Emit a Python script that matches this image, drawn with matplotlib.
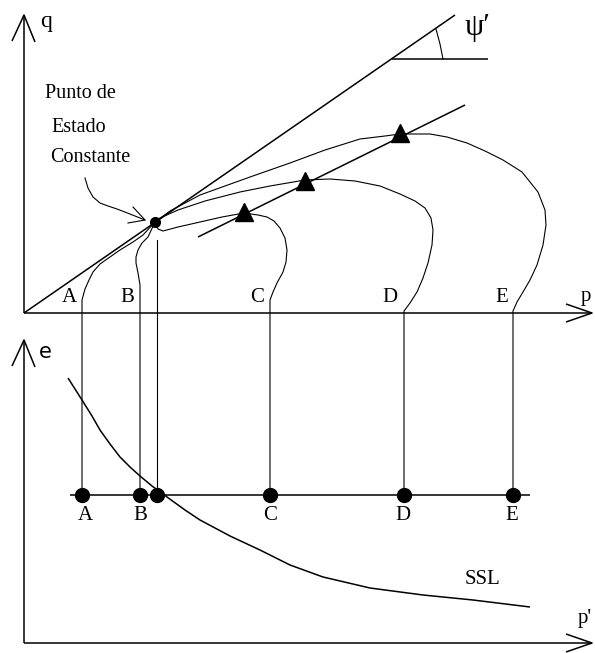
import matplotlib
matplotlib.use("Agg")
import matplotlib.pyplot as plt

plt.rcParams['font.family'] = ['Liberation Serif', 'DejaVu Serif']

# drawing units: x grows right (p), y grows down, origin of q-p plot at (24, 313)
origin_qp = (24, 313)
origin_ep = (24, 643)

# stress paths in the q-p plane, from the start on the p axis to the end point
path_A_x = [82, 82, 85, 89, 93, 100, 110, 120, 133, 143, 155]
path_A_y = [495, 300, 289, 280, 272, 264, 257, 250, 242, 235, 222]
path_B_x = [140, 140, 140, 138, 136, 136, 138, 142, 148, 155]
path_B_y = [495, 305, 285, 273, 263, 257, 250, 243, 237, 222]
path_C_x = [270, 270, 273, 277, 283, 286, 287, 285, 280, 274, 267, 258, 244, 222, 200, 178, 163, 158, 155]
path_C_y = [495, 300, 292, 283, 272, 262, 250, 238, 228, 221, 217, 215, 213, 217, 222, 227, 231, 229, 222]
path_D_x = [404, 404, 410, 417, 423, 428, 432, 433, 431, 425, 415, 400, 380, 355, 330, 305, 270, 240, 205, 178, 160, 155]
path_D_y = [495, 311, 303, 292, 278, 263, 245, 230, 218, 208, 201, 194, 186, 181, 179, 180, 186, 192, 201, 210, 218, 222]
path_E_x = [513, 513, 517, 523, 530, 537, 543, 546, 545, 538, 522, 503, 485, 467, 447, 430, 400, 385, 360, 325, 290, 250, 200, 170, 155]
path_E_y = [495, 311, 302, 292, 280, 265, 245, 225, 210, 192, 172, 160, 151, 143, 137, 134, 134, 136, 139, 150, 163, 177, 195, 211, 222]
# undrained path that stays at the steady state
path_SS_x = [157, 157]
path_SS_y = [240, 495]

# peak states (triangles) and the line through them
peak_x = [244, 305, 400]
peak_y = [212, 181, 133]
peak_line_x = [198, 465]
peak_line_y = [237, 105]

# steady state point
ss_x, ss_y = 155, 222

# void ratio plot: states and steady state line
state_labels = ['A', 'B', 'C', 'D', 'E']
state_x = [82, 140, 157, 270, 404, 513]
state_y = 495
ssl_x = [68, 75, 82, 92, 100, 110, 120, 130, 140, 152, 167, 185, 200, 230, 260, 290, 323, 370, 423, 473, 530]
ssl_y = [378, 389, 400, 416, 430, 444, 457, 467, 476, 486, 497, 510, 520, 536, 550, 565, 577, 588, 595, 600, 607]

fig = plt.figure(figsize=(5.95, 6.53), dpi=100)
ax = fig.add_axes([0, 0, 1, 1])
ax.set_xlim(0, 595)
ax.set_ylim(653, 0)
ax.axis('off')

k = dict(color='black', lw=1.1, solid_capstyle='butt')
thin = dict(color='black', lw=0.8)

# axes with open arrow heads
for ox, oy, top in [(origin_qp[0], origin_qp[1], 15), (origin_ep[0], origin_ep[1], 340)]:
    ax.plot([ox, ox], [oy, top], **k)
    ax.plot([ox - 12, ox, ox + 11], [top + 26, top, top + 27], **k)
    ax.plot([ox, 592], [oy, oy], **k)
    ax.plot([566, 592, 566], [oy - 9, oy, oy + 9], **k)

ax.text(40, 22, 'q', fontsize=17, va='center', ha='left')
ax.text(39, 352, 'e', fontsize=15, va='center', ha='left', family='DejaVu Sans')
ax.text(586, 297, 'p', fontsize=15, va='center', ha='center')
ax.text(585, 618, "p'", fontsize=15, va='center', ha='center')

# steady state line in q-p and the angle psi'
ax.plot([24, 455], [313, 15], **k)
ax.plot([392, 488], [59, 59], **k)
ax.plot([436, 440, 443], [29, 44, 59], **thin)
ax.text(465, 27, "ψ′", fontsize=22, va='center', ha='left')

# stress paths
for px, py in [(path_A_x, path_A_y), (path_B_x, path_B_y), (path_C_x, path_C_y),
               (path_D_x, path_D_y), (path_E_x, path_E_y), (path_SS_x, path_SS_y)]:
    ax.plot(px, py, **thin)

ax.plot(peak_line_x, peak_line_y, **k)
ax.plot(peak_x, peak_y, ls='none', marker='^', ms=13, color='black', mec='black')
ax.plot(ss_x, ss_y, marker='o', ms=7, color='black')

# letters on the p axis
for lab, lx in zip(state_labels, [69, 127, 257, 390, 502]):
    ax.text(lx, 298, lab, fontsize=15, ha='center', va='center')

# annotation for the steady state point
ax.text(80, 93, 'Punto de', fontsize=14.5, ha='center', va='center')
ax.text(79, 128, 'Estado', fontsize=14.5, ha='center', va='center')
ax.text(90, 158, 'Constante', fontsize=14.5, ha='center', va='center')
ax.plot([85, 88, 93, 100, 108, 117, 130, 145], [178, 188, 197, 203, 206, 209, 214, 220], **thin)
ax.plot([133, 145, 128], [207, 220, 223], **thin)

# void ratio plot
ax.plot([70, 530], [state_y, state_y], **k)
ax.plot(ssl_x, ssl_y, **k)
ax.plot(state_x, [state_y] * len(state_x), ls='none', marker='o', ms=10, color='black')
for lab, lx in zip(state_labels, [85, 140, 270, 403, 512]):
    ax.text(lx, 516, lab, fontsize=15, ha='center', va='center')
ax.text(482, 580, 'SSL', fontsize=15, ha='center', va='center')

fig.savefig('out.png', dpi=100, facecolor='white')
